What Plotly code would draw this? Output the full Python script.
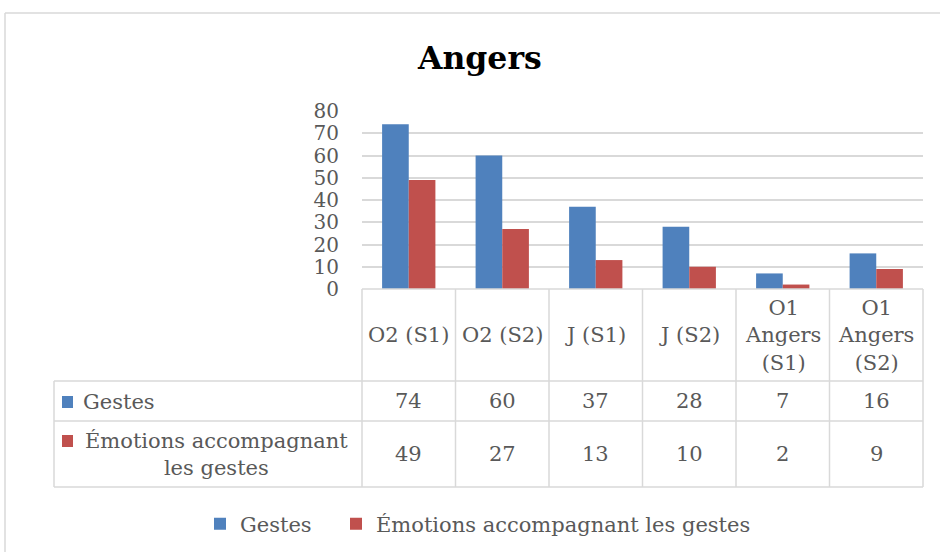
import plotly.graph_objects as go

# data
categories = ["O2 (S1)", "O2 (S2)", "J (S1)", "J (S2)", "O1 Angers (S1)", "O1 Angers (S2)"]
header_labels = ["O2 (S1)", "O2 (S2)", "J (S1)", "J (S2)", "O1<br>Angers<br>(S1)", "O1<br>Angers<br>(S2)"]
gestes = [74, 60, 37, 28, 7, 16]
emotions = [49, 27, 13, 10, 2, 9]
series_names = ["Gestes", "Émotions accompagnant les gestes"]
row_labels = ["Gestes", "Émotions accompagnant<br>les gestes"]
colors = ["#4F81BD", "#C0504D"]

W, H = 940, 552
FONT = "DejaVu Serif"
GREY = "#595959"
LINE = "#D9D9D9"


def px(x):
    return x / W


def py(y):
    return 1 - y / H


# layout in pixels
plot_x0, plot_x1 = 362, 923
y_zero, y_top = 289, 111
row_y = [289, 381, 421, 487]
table_x0 = 54

fig = go.Figure()
for i, (name, vals, c) in enumerate(zip(series_names, [gestes, emotions], colors)):
    fig.add_trace(go.Bar(x=categories, y=vals, name=name, marker=dict(color=c, line=dict(width=0)),
                         showlegend=True, legend="legend" if i == 0 else "legend2"))

shapes = []
# chart border
shapes.append(dict(type="line", xref="paper", yref="paper", x0=px(5), x1=px(945), y0=py(13), y1=py(13),
                   line=dict(color=LINE, width=1.5)))
shapes.append(dict(type="line", xref="paper", yref="paper", x0=px(5), x1=px(5), y0=py(13), y1=py(560),
                   line=dict(color=LINE, width=1.5)))
# table horizontal lines
for y in row_y:
    x0 = plot_x0 if y == row_y[0] else table_x0
    shapes.append(dict(type="line", xref="paper", yref="paper", x0=px(x0), x1=px(plot_x1), y0=py(y), y1=py(y),
                       line=dict(color=LINE, width=1.5)))
# table vertical lines
colw = (plot_x1 - plot_x0) / len(categories)
for i in range(len(categories) + 1):
    x = plot_x0 + i * colw
    shapes.append(dict(type="line", xref="paper", yref="paper", x0=px(x), x1=px(x), y0=py(row_y[0]), y1=py(row_y[-1]),
                       line=dict(color=LINE, width=1.5)))
shapes.append(dict(type="line", xref="paper", yref="paper", x0=px(table_x0), x1=px(table_x0),
                   y0=py(row_y[1]), y1=py(row_y[-1]), line=dict(color=LINE, width=1.5)))

annotations = []
# title
annotations.append(dict(text="<b>Angers</b>", xref="paper", yref="paper", x=px(480), y=py(57),
                        yanchor="middle", showarrow=False, font=dict(family=FONT, size=31.5, color="black")))
# header row
for cat, lab in zip(categories, header_labels):
    annotations.append(dict(text=lab, xref="x", yref="paper", x=cat, y=py((row_y[0] + row_y[1]) / 2),
                            yanchor="middle", showarrow=False, font=dict(family=FONT, size=21, color=GREY)))
# data rows
for r, vals in enumerate([gestes, emotions]):
    yc = py((row_y[r + 1] + row_y[r + 2]) / 2)
    for cat, v in zip(categories, vals):
        annotations.append(dict(text=str(v), xref="x", yref="paper", x=cat, y=yc, yanchor="middle",
                                showarrow=False, font=dict(family=FONT, size=21, color=GREY)))

# row labels with keys
annotations.append(dict(text=row_labels[0], xref="paper", yref="paper", x=px(81), y=py(402),
                        xanchor="left", yanchor="middle", showarrow=False,
                        font=dict(family=FONT, size=21, color=GREY)))
annotations.append(dict(text=row_labels[1], xref="paper", yref="paper", x=px(216), y=py(454),
                        xanchor="center", yanchor="middle", align="center", showarrow=False,
                        font=dict(family=FONT, size=21, color=GREY)))
for c, yc in zip(colors, [402, 441]):
    shapes.append(dict(type="rect", xref="paper", yref="paper", x0=px(62), x1=px(73), y0=py(yc - 6), y1=py(yc + 6),
                       fillcolor=c, line=dict(width=0)))

legend_style = dict(orientation="h", yanchor="middle", xanchor="left", y=py(524),
                    font=dict(family=FONT, size=21, color=GREY), bgcolor="rgba(0,0,0,0)")

fig.update_layout(
    width=W, height=H,
    margin=dict(l=0, r=0, t=0, b=0),
    paper_bgcolor="white",
    plot_bgcolor="white",
    showlegend=True,
    barmode="group",
    bargap=0.43,
    bargroupgap=0,
    font=dict(family=FONT, color=GREY),
    xaxis=dict(domain=[px(plot_x0), px(plot_x1)], showticklabels=False, showgrid=False, ticks="",
               automargin=False),
    yaxis=dict(domain=[py(y_zero), py(y_top)], range=[0, 80], dtick=10, showgrid=True,
               gridcolor=LINE, gridwidth=1.5, zeroline=False, ticks="", automargin=False,
               tickfont=dict(family=FONT, size=20, color=GREY), ticklabelstandoff=22),
    legend=dict(x=px(200), **legend_style),
    legend2=dict(x=px(336), **legend_style),
    shapes=shapes,
    annotations=annotations,
)

fig.write_html("out.html", config={"displayModeBar": False},
               post_script="document.body.style.margin='0';")
